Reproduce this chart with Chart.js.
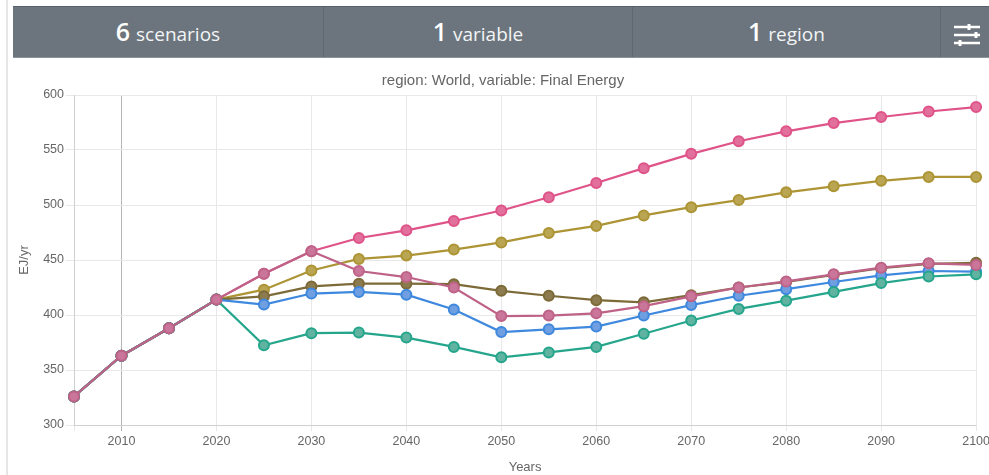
<!DOCTYPE html>
<html>
<head>
<meta charset="utf-8">
<title>Final Energy</title>
<script src="https://cdn.jsdelivr.net/npm/chart.js@4"></script>
<style>
html, body { margin: 0; padding: 0; width: 989px; height: 475px; overflow: hidden; background: #fff; }
#edge { position: absolute; left: 6px; top: 0; width: 2px; height: 475px; background: #e6e6e6; }
#bar { position: absolute; left: 13px; top: 6px; width: 976px; height: 52px; background: #6c757d; color: #f2f4f5;
       font-family: "Open Sans", sans-serif; font-size: 19px; border-top: 1px solid #59626a; box-sizing: border-box; border-bottom: 1px solid #8b949b; }
.cell { position: absolute; top: 0; height: 50px; line-height: 49px; text-align: center; border-right: 1px solid #5f6870; box-sizing: border-box; }
.cell b { font-size: 25px; font-weight: 600; color: #fff; margin-right: 1px; }
#icon { position: absolute; left: 940px; top: 16px; }
#wrap { position: absolute; left: 13px; top: 66px; width: 980px; height: 409px; }
</style>
</head>
<body>
<div id="edge"></div>
<div id="bar">
  <div class="cell" style="left:0;width:311px"><b>6</b> scenarios</div>
  <div class="cell" style="left:311px;width:309px"><b>1</b> variable</div>
  <div class="cell" style="left:620px;width:308px"><b>1</b> region</div>
  <svg id="icon" width="28" height="24" viewBox="0 0 28 24">
    <g stroke="#fff" stroke-width="2.4" fill="none">
      <path d="M1 4H27M1 12H27M1 20H27"/>
      <path d="M16 1V7M23 9V15M7 17V23" stroke-width="3"/>
    </g>
  </svg>
</div>
<div id="wrap"><canvas id="energyChart"></canvas></div>
<script>
const years = [2005, 2010, 2015, 2020, 2025, 2030, 2035, 2040, 2045, 2050, 2055, 2060, 2065, 2070, 2075, 2080, 2085, 2090, 2095, 2100];
const history = [326, 363, 388, 414];
const pinkSeries = [437.5, 458, 470, 477, 485.5, 495, 507, 520, 533.5, 546.5, 558, 567, 574.5, 580, 585, 589];
const goldSeries = [423, 440.5, 451, 454, 459.5, 466, 474.5, 481, 490.5, 498, 504.5, 511.5, 517, 522, 525.5, 525.5];
const brownSeries = [417, 426, 428.5, 428.5, 428, 422, 417.5, 413.5, 411.5, 418, 425, 430, 436.5, 442.5, 446.5, 447.5];
const blueSeries = [409.5, 419.5, 421, 418.5, 405, 384.5, 387, 389.5, 399.5, 409, 417.5, 423.5, 430, 436, 440, 439.5];
const greenSeries = [372.5, 383.5, 384, 379.5, 371, 361.5, 366, 371, 383, 395, 405.5, 413, 421, 429, 435, 437];
const mauveSeries = [437.5, 458, 440, 434.5, 425, 399, 399.5, 401.5, 408, 417, 425, 430.5, 437, 443, 447, 445.5];

function toPoints(values) {
    return history.concat(values).map(function (v, i) { return { x: years[i], y: v }; });
}

function series(label, values, line, fill) {
    return {
        label: label,
        data: toPoints(values),
        borderColor: line,
        backgroundColor: fill,
        borderWidth: 2.2,
        pointRadius: 5,
        pointBorderWidth: 2,
        pointBorderColor: line,
        pointBackgroundColor: fill,
        tension: 0,
        clip: false
    };
}

document.addEventListener('DOMContentLoaded', function () {
    new Chart(document.getElementById('energyChart').getContext('2d'), {
        type: 'line',
        data: {
            // first dataset is painted last, so the mauve one sits on top
            datasets: [
                series('Scenario 6', mauveSeries, '#bf6287', '#c9769a'),
                series('Scenario 5', greenSeries, '#25a68c', '#5fb3a0'),
                series('Scenario 4', blueSeries, '#3e88de', '#6f9fe0'),
                series('Scenario 3', brownSeries, '#7c6a38', '#8c7b4e'),
                series('Scenario 2', goldSeries, '#ad9434', '#b9a552'),
                series('Scenario 1', pinkSeries, '#df5389', '#e2709c')
            ]
        },
        options: {
            responsive: true,
            maintainAspectRatio: false,
            animation: false,
            plugins: {
                legend: { display: false },
                tooltip: { enabled: false },
                title: {
                    display: true,
                    text: 'region: World, variable: Final Energy',
                    color: '#666',
                    font: { family: '"Liberation Sans", Arial, sans-serif', size: 15, weight: 'normal' },
                    padding: { top: 6, bottom: 5 }
                }
            },
            scales: {
                x: {
                    type: 'linear',
                    min: 2005,
                    max: 2100,
                    afterFit: function (axis) { axis.height = 50; },
                    afterBuildTicks: function (axis) {
                        axis.ticks = [{ value: 2005 }].concat(years.filter(function (y) { return y % 10 === 0; }).map(function (y) { return { value: y }; }));
                    },
                    title: {
                        display: true,
                        text: 'Years',
                        color: '#666',
                        padding: { top: 4, bottom: 0 },
                        font: { family: '"Liberation Sans", Arial, sans-serif', size: 13 }
                    },
                    ticks: {
                        autoSkip: false,
                        maxRotation: 0,
                        color: '#666',
                        font: { family: '"Liberation Sans", Arial, sans-serif', size: 12.5 },
                        callback: function (v) { return v === 2005 ? '' : String(v); }
                    },
                    grid: {
                        color: function (ctx) { return ctx.tick && ctx.tick.value === 2010 ? '#b5b5b5' : '#e8e8e8'; },
                        tickLength: 6
                    }
                },
                y: {
                    min: 300,
                    max: 600,
                    afterFit: function (axis) { axis.width = 61; },
                    title: {
                        display: true,
                        text: 'EJ/yr',
                        color: '#666',
                        font: { family: '"Liberation Sans", Arial, sans-serif', size: 13 }
                    },
                    ticks: {
                        stepSize: 50,
                        padding: 2,
                        color: '#666',
                        font: { family: '"Liberation Sans", Arial, sans-serif', size: 12.5 }
                    },
                    grid: { color: '#e8e8e8', tickLength: 8 }
                }
            }
        }
    });
});
</script>
</body>
</html>
